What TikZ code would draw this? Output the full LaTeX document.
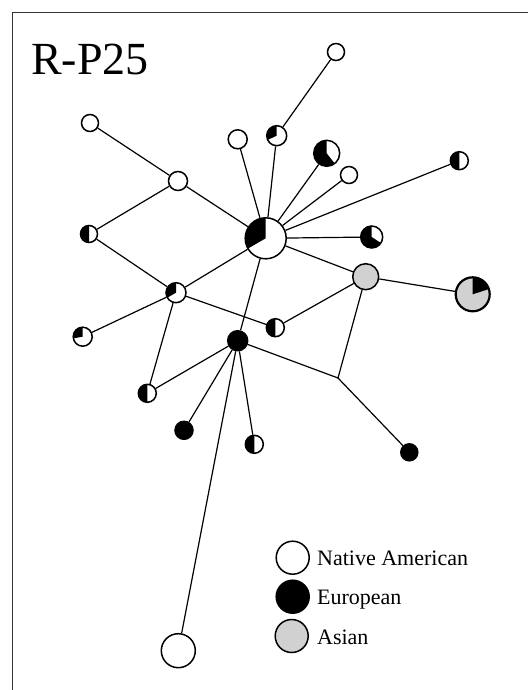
\documentclass[tikz,border=0pt]{standalone}
\usepackage{fontspec}
\setmainfont{Liberation Serif}
\usetikzlibrary{positioning}

\tikzset{
  hap/.style={circle, draw, line width=1.5pt, fill=white, inner sep=0pt, minimum size=#1},
  eur/.style 2 args={path picture={\fill[black] (path picture bounding box.center) -- ++(#1:40pt) arc[start angle=#1, end angle=#2, radius=40pt] -- cycle;}},
  halfeur/.style={eur={90}{270}},
  asian/.style={fill=black!18},
  link/.style={line width=1.2pt},
  legtext/.style={inner sep=0pt, text height=16pt, text depth=0pt, font=\fontsize{22}{26}\selectfont},
}

\begin{document}
\begin{tikzpicture}[x=1pt, y=1pt]
    \useasboundingbox (0,0) rectangle (528,-690);
    \draw[line width=1pt, black!80] (12,-690) -- (12,-13) -- (528,-13);

    \node[anchor=base west, inner sep=0pt, font=\fontsize{46}{50}\selectfont] (title) at (31,-75) {R-P25};

    % haplotypes
    \node[hap=41pt, eur={90}{210}] (hub) at (265.7,-238.3) {};
    \node[hap=17pt] (n1) at (336,-52) {};
    \node[hap=17pt] (n2) at (90,-123) {};
    \node[hap=20pt, eur={90}{205}] (n3) at (276.7,-135.7) {};
    \node[hap=19pt] (n4) at (237.7,-139.3) {};
    \node[hap=26pt, eur={90}{308}] (n5) at (326.7,-153.3) {};
    \node[hap=17pt] (n6) at (349,-175) {};
    \node[hap=18pt, halfeur] (n7) at (459.3,-160.7) {};
    \node[hap=19pt] (n8) at (178,-181) {};
    \node[hap=22pt, eur={90}{327}] (n9) at (371.7,-237) {};
    \node[hap=17pt, halfeur] (n10) at (89,-234) {};
    \node[hap=26pt, asian] (as1) at (365.7,-276.7) {};
    \node[hap=34pt, asian, line width=2.2pt, eur={18}{90}] (as2) at (472.7,-294.3) {};
    \node[hap=20pt, eur={90}{210}] (n11) at (176,-292.7) {};
    \node[hap=19pt, eur={90}{190}] (n12) at (82.7,-336.7) {};
    \node[hap=18pt, halfeur] (n13) at (275.3,-327.7) {};
    \node[hap=20pt, fill=black] (eu1) at (237.7,-340.7) {};
    \coordinate (mv) at (338,-378);
    \node[hap=18pt, halfeur] (n14) at (147.3,-393.3) {};
    \node[hap=18pt, fill=black] (eu2) at (184,-430.3) {};
    \node[hap=18pt, halfeur] (n15) at (254.3,-444.3) {};
    \node[hap=17pt, fill=black] (eu3) at (409.3,-452.3) {};
    \node[hap=34pt] (n16) at (178.3,-650.7) {};

    % links
    \draw[link] (n1) -- (n3) -- (hub);
    \draw[link] (n4) -- (hub);
    \draw[link] (n5) -- (hub);
    \draw[link] (n6) -- (hub);
    \draw[link] (n7) -- (hub);
    \draw[link] (n9) -- (hub);
    \draw[link] (n2) -- (n8) -- (hub);
    \draw[link] (n8) -- (n10) -- (n11) -- (hub);
    \draw[link] (n11) -- (n12);
    \draw[link] (n11) -- (n14) -- (eu1);
    \draw[link] (n11) -- (n13) -- (as1);
    \draw[link] (hub) -- (as1) -- (as2);
    \draw[link] (as1) -- (mv) -- (eu3);
    \draw[link] (hub) -- (eu1) -- (mv);
    \draw[link] (eu1) -- (eu2);
    \draw[link] (eu1) -- (n15);
    \draw[link] (eu1) -- (n16);

    % legend
    \node[hap=33pt] (leg1) at (292.7,-557.7) {};
    \node[hap=33pt, fill=black] (leg2) at (292.7,-596.7) {};
    \node[hap=33pt, asian] (leg3) at (291.7,-636) {};
    \node[legtext, right=7pt of leg1] (lab1) {Native American};
    \node[legtext, right=7pt of leg2] (lab2) {European};
    \node[legtext, right=8pt of leg3] (lab3) {Asian};
\end{tikzpicture}
\end{document}
